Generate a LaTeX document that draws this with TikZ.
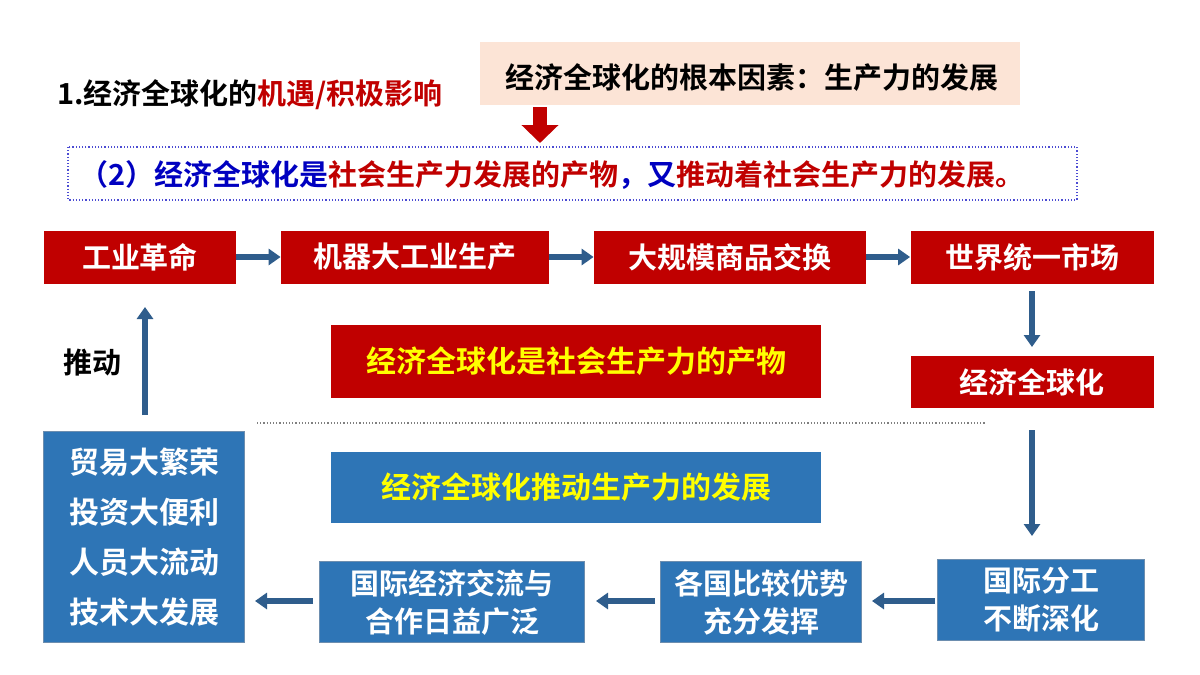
\documentclass[tikz,border=0pt]{standalone}
\usepackage{fontspec}
\setmainfont{Noto Sans CJK SC}[BoldFont={Noto Sans CJK SC Bold}]
\usetikzlibrary{arrows.meta}
\definecolor{dred}{HTML}{C00000}
\definecolor{bbox}{HTML}{2E75B6}
\definecolor{arr}{HTML}{2F5D8C}
\definecolor{peach}{HTML}{FCE4D6}
\definecolor{tblue}{HTML}{0000C0}
\definecolor{yel}{HTML}{FFFF00}
\tikzset{
 redbox/.style={fill=dred,text=white,font=\bfseries\fontsize{14.5}{16}\selectfont,inner sep=0pt},
 bluebox/.style={fill=bbox,draw=arr!70,text=white,font=\bfseries\fontsize{14.5}{19}\selectfont,inner sep=0pt,align=center},
 flow/.style={arr,line width=3pt,-{Triangle[width=8pt,length=6pt]}}
}
\begin{document}
\begin{tikzpicture}[x=0.5pt,y=-0.5pt]
\useasboundingbox[fill=white] (0,0) rectangle (1200,675);
\node[anchor=west,font=\bfseries\fontsize{14.5}{16}\selectfont] (title) at (50,95) {1.经济全球化的\textcolor{dred}{机遇/积极影响}};
\fill[peach] (480,42) rectangle (1020,105);
\node[font=\bfseries\fontsize{14.5}{16}\selectfont] (root) at (752,78) {经济全球化的根本因素：生产力的发展};
\coordinate (ra) at (540,107); \coordinate (rb) at (540,143);
\draw[dred,line width=7pt,-{Triangle[width=18pt,length=9pt]}] (ra) -- (rb);
\draw[tblue!70,densely dotted,line width=0.6pt] (68,147) rectangle (1077,200);
\node[anchor=west,font=\bfseries\fontsize{14.5}{16}\selectfont,text=tblue] (two) at (72,175) {（2）经济全球化是\textcolor{dred}{社会生产力发展的产物}，又\textcolor{dred}{推动着社会生产力的发展。}};
\node[redbox,minimum width=96pt,minimum height=26.5pt] (a1) at (140,257) {工业革命};
\node[redbox,minimum width=134pt,minimum height=26.5pt] (a2) at (415,257) {机器大工业生产};
\node[redbox,minimum width=136pt,minimum height=26.5pt] (a3) at (730,257) {大规模商品交换};
\node[redbox,minimum width=121.5pt,minimum height=26.5pt] (a4) at (1032,257) {世界统一市场};
\node[redbox,minimum width=121.5pt,minimum height=26pt] (g) at (1032,382) {经济全球化};
\node[bluebox,minimum width=103.5pt,minimum height=40.5pt] (b1) at (1041,600) {国际分工\\不断深化};
\node[bluebox,minimum width=100.5pt,minimum height=40.5pt] (b2) at (761,602) {各国比较优势\\充分发挥};
\node[bluebox,minimum width=132.5pt,minimum height=40.5pt] (b3) at (452,602) {国际经济交流与\\合作日益广泛};
\node[bluebox,minimum width=100.5pt,minimum height=105.5pt,font=\bfseries\fontsize{15}{25}\selectfont] (b4) at (144,537) {贸易大繁荣\\投资大便利\\人员大流动\\技术大发展};
\node[redbox,minimum width=245pt,minimum height=36.5pt,text=yel,font=\bfseries\fontsize{15}{16}\selectfont] (m1) at (576,361) {经济全球化是社会生产力的产物};
\node[bluebox,draw=none,minimum width=245pt,minimum height=35.5pt,text=yel,font=\bfseries\fontsize{15}{16}\selectfont] (m2) at (576,487) {经济全球化推动生产力的发展};
\coordinate (dl) at (257,423); \coordinate (dr) at (985,423);
\draw[gray,densely dotted,line width=0.6pt] (dl) -- (dr);
\node[font=\bfseries\fontsize{14.5}{16}\selectfont] (push) at (92,363) {推动};
\coordinate (p1) at (1032,291); \coordinate (p2) at (1032,347);
\coordinate (p3) at (1032,430); \coordinate (p4) at (1032,536);
\coordinate (p5) at (935,601); \coordinate (p6) at (872,601);
\coordinate (p7) at (655,601); \coordinate (p8) at (596,601);
\coordinate (p9) at (313,601); \coordinate (p10) at (255,601);
\coordinate (p11) at (145,415); \coordinate (p12) at (145,307);
\draw[flow] (a1) -- (a2);
\draw[flow] (a2) -- (a3);
\draw[flow] (a3) -- (a4);
\draw[flow] (p1) -- (p2);
\draw[flow] (p3) -- (p4);
\draw[flow] (p5) -- (p6);
\draw[flow] (p7) -- (p8);
\draw[flow] (p9) -- (p10);
\draw[flow] (p11) -- (p12);
\end{tikzpicture}
\end{document}
